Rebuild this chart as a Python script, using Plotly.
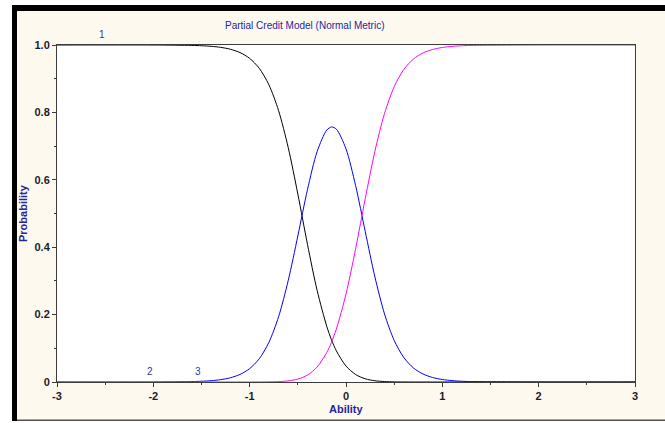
import plotly.graph_objects as go

# Ability grid and category response probabilities
ability = [-3.0, -2.0, -1.6, -1.5, -1.4, -1.3, -1.2, -1.1, -1.0, -0.9, -0.8, -0.7,
           -0.6, -0.5, -0.4, -0.3, -0.2, -0.15, -0.1, 0.0, 0.1, 0.2, 0.3, 0.4,
           0.5, 0.6, 0.7, 0.8, 0.9, 1.0, 1.1, 1.2, 1.3, 2.0, 3.0]
cat1 = [1.0, 1.0, 0.9988, 0.9978, 0.9961, 0.9930, 0.9874, 0.9775, 0.9603, 0.9307, 0.8818, 0.8053,
        0.6960, 0.5579, 0.4085, 0.2720, 0.1654, 0.1248, 0.0923, 0.0473, 0.0222, 0.0094, 0.0037, 0.0013,
        0.0004, 0.0001, 0.0, 0.0, 0.0, 0.0, 0.0, 0.0, 0.0, 0.0, 0.0]
cat2 = [0.0, 0.0, 0.0012, 0.0022, 0.0039, 0.0070, 0.0126, 0.0225, 0.0397, 0.0691, 0.1178, 0.1935,
        0.3007, 0.4334, 0.5709, 0.6836, 0.7475, 0.7568, 0.7503, 0.6917, 0.5825, 0.4460, 0.3118, 0.2018,
        0.1234, 0.0726, 0.0417, 0.0236, 0.0133, 0.0074, 0.0041, 0.0023, 0.0013, 0.0, 0.0]
cat3 = [0.0, 0.0, 0.0, 0.0, 0.0, 0.0, 0.0, 0.0, 0.0, 0.0001, 0.0004, 0.0012,
        0.0034, 0.0087, 0.0206, 0.0444, 0.0872, 0.1184, 0.1574, 0.2610, 0.3954, 0.5446, 0.6846, 0.7969,
        0.8762, 0.9273, 0.9583, 0.9764, 0.9867, 0.9926, 0.9959, 0.9977, 0.9987, 1.0, 1.0]

series_names = ["1", "2", "3"]
series_colors = ["#000000", "#0000FF", "#FF00FF"]
label_x = [-2.53, -2.03, -1.54]
label_y = [1.0, 0.0, 0.0]

x_ticks = [-3, -2, -1, 0, 1, 2, 3]
x_tick_text = ["-3", "-2", "-1", "0", "1", "2", "3"]
y_ticks = [0, 0.2, 0.4, 0.6, 0.8, 1.0]
y_tick_text = ["0", "0.2", "0.4", "0.6", "0.8", "1.0"]

W, H = 665, 423
L, R, T, B = 57, 635, 45, 382  # plot area in pixels
FONT = "Liberation Sans, Arial, sans-serif"


def px(x):
    return (x - L) / (R - L)


def py(y):
    return (B - y) / (B - T)


fig = go.Figure()
for name, vals, col in zip(series_names, [cat1, cat2, cat3], series_colors):
    fig.add_trace(go.Scatter(x=ability, y=vals, mode="lines", name=name,
                             line=dict(color=col, width=1, shape="spline", smoothing=0.8),
                             showlegend=False, hoverinfo="skip"))

tick_font = dict(family=FONT, size=11, color="#1c1c2c", weight="bold")
title_col = "#24249E"

shapes = [
    # white margins outside the frame
    dict(type="rect", xref="paper", yref="paper", x0=px(0), x1=px(12), y0=py(0), y1=py(H),
         fillcolor="white", line_width=0, layer="above"),
    dict(type="rect", xref="paper", yref="paper", x0=px(0), x1=px(W), y0=py(0), y1=py(5),
         fillcolor="white", line_width=0, layer="above"),
    dict(type="rect", xref="paper", yref="paper", x0=px(12), x1=px(W), y0=py(421), y1=py(H),
         fillcolor="white", line_width=0, layer="above"),
    # black frame
    dict(type="rect", xref="paper", yref="paper", x0=px(12), x1=px(17), y0=py(5), y1=py(421),
         fillcolor="black", line_width=0, layer="above"),
    dict(type="rect", xref="paper", yref="paper", x0=px(12), x1=px(W), y0=py(5), y1=py(11),
         fillcolor="black", line_width=0, layer="above"),
    dict(type="rect", xref="paper", yref="paper", x0=px(17), x1=px(W), y0=py(419.5), y1=py(421),
         fillcolor="#505050", line_width=0, layer="above"),
]

annotations = [
    dict(text="Partial Credit Model (Normal Metric)", xref="paper", yref="paper",
         x=px(304), y=py(26), xanchor="center", yanchor="middle", showarrow=False,
         font=dict(family=FONT, size=10, color=title_col)),
    dict(text="<b>Ability</b>", xref="paper", yref="paper",
         x=px(346), y=py(409), xanchor="center", yanchor="middle", showarrow=False,
         font=dict(family=FONT, size=11, color=title_col)),
    dict(text="<b>Probability</b>", xref="paper", yref="paper", textangle=-90,
         x=px(23), y=py(213), xanchor="center", yanchor="middle", showarrow=False,
         font=dict(family=FONT, size=11, color=title_col)),
]
for name, lx, ly in zip(series_names, label_x, label_y):
    annotations.append(dict(text=name, x=lx, y=ly, xref="x", yref="y", showarrow=False,
                            yshift=11, xanchor="center", yanchor="middle",
                            font=dict(family=FONT, size=10, color="#3434A4")))

fig.update_layout(
    width=W, height=H,
    margin=dict(l=L, r=W - R, t=T, b=H - B, pad=0),
    paper_bgcolor="#FEF9EF",
    plot_bgcolor="white",
    shapes=shapes,
    annotations=annotations,
    xaxis=dict(range=[-3, 3], tickvals=x_ticks, ticktext=x_tick_text, showgrid=False, zeroline=False,
               showline=True, linecolor="#3c3c3c", linewidth=1, mirror=True, automargin=False,
               ticks="outside", ticklen=4, tickwidth=1, tickcolor="#3c3c3c", tickfont=tick_font,
               minor=dict(dtick=0.5, tick0=0, ticks="outside", ticklen=2, tickcolor="#3c3c3c")),
    yaxis=dict(range=[0, 1], tickvals=y_ticks, ticktext=y_tick_text, showgrid=False, zeroline=False,
               showline=True, linecolor="#3c3c3c", linewidth=1, mirror=True, automargin=False,
               ticks="outside", ticklen=4, tickwidth=1, tickcolor="#3c3c3c", tickfont=tick_font,
               minor=dict(dtick=0.1, tick0=0, ticks="outside", ticklen=2, tickcolor="#3c3c3c")),
)

fig.write_html("out.html")
